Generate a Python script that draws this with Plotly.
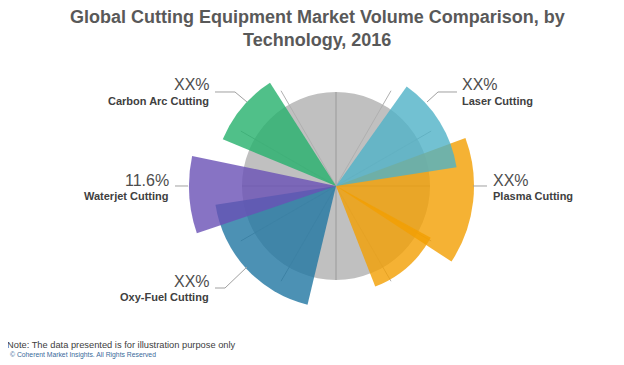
import plotly.graph_objects as go

# the page adds an 8px body margin, so the figure is drawn 8px in from the corner
OFF = 8
W, H = 624 - OFF, 365 - OFF

# ---- data ----
technologies = ["Carbon Arc Cutting", "Laser Cutting", "Plasma Cutting", "Waterjet Cutting", "Oxy-Fuel Cutting"]
share_labels = ["XX%", "XX%", "XX%", "11.6%", "XX%"]
tech_colors = ["#24b06b", "#4fb2c7", "#f39f01", "#6950b5", "#1f75a1"]

# wedges (angles in degrees, clockwise from 12 o'clock) in drawing order
wedge_tech = ["Oxy-Fuel Cutting", "Plasma Cutting", "Plasma Cutting", "Laser Cutting", "Waterjet Cutting", "Carbon Arc Cutting"]
wedge_start = [193.5, 69.7, 118.7, 35.4, 251.2, 292.4]
wedge_end = [261.1, 123.2, 158.7, 81.2, 281.8, 327.4]
wedge_value = [122, 138, 108, 122, 147, 122.5]

base_value = 94            # grey base disc
major_angles = [0, 90, 180, 270]
minor_angles = [30, 60, 120, 150, 210, 240, 300, 330]
minor_value = 110

title_lines = ["Global Cutting Equipment Market Volume Comparison, by", "Technology, 2016"]
note_text = "Note: The data presented is for illustration purpose only"
copyright_text = "\u00a9 Coherent Market Insights. All Rights Reserved"

# ---- layout helpers (screen pixel coordinates) ----
CX, CY = 336, 186   # pixel centre of the rose
RMAX = 150


def px(x):
    return (x - OFF) / W


def py(y):
    return 1 - (y - OFF) / H


def domain(rpx):
    return dict(x=[px(CX - rpx), px(CX + rpx)], y=[py(CY + rpx), py(CY - rpx)])


fig = go.Figure()

# dummy traces so the background subplots are drawn
fig.add_trace(go.Scatterpolar(r=[0], theta=[0], mode="markers", marker=dict(size=1, opacity=0),
                              hoverinfo="skip", showlegend=False, subplot="polar"))
fig.add_trace(go.Scatterpolar(r=[0], theta=[0], mode="markers", marker=dict(size=1, opacity=0),
                              hoverinfo="skip", showlegend=False, subplot="polar2"))

for tech, s, e, v in zip(wedge_tech, wedge_start, wedge_end, wedge_value):
    col = tech_colors[technologies.index(tech)]
    fig.add_trace(go.Barpolar(
        r=[v], theta=[(s + e) / 2], width=[e - s], base=0,
        marker=dict(color=col, line=dict(width=0)), opacity=0.8,
        name=tech, showlegend=False, subplot="polar3"))

common_ang = dict(rotation=90, direction="clockwise", showticklabels=False, ticks="",
                  showline=False)

fig.update_layout(
    width=W, height=H, autosize=False,
    margin=dict(l=0, r=0, t=0, b=0),
    paper_bgcolor="white", plot_bgcolor="white",
    showlegend=False,
    polar=dict(domain=domain(base_value), bgcolor="#c0c0c0",
               radialaxis=dict(visible=False, range=[0, base_value]),
               angularaxis=dict(**common_ang, tickmode="array", tickvals=major_angles,
                                showgrid=True, gridcolor="#9a9a9a", gridwidth=1)),
    polar2=dict(domain=domain(minor_value), bgcolor="rgba(0,0,0,0)",
                radialaxis=dict(visible=False, range=[0, minor_value]),
                angularaxis=dict(**common_ang, tickmode="array", tickvals=minor_angles,
                                 showgrid=True, gridcolor="#b0b0b0", gridwidth=0.8)),
    polar3=dict(domain=domain(RMAX), bgcolor="rgba(0,0,0,0)",
                radialaxis=dict(visible=False, range=[0, RMAX]),
                angularaxis=dict(**common_ang, showgrid=False)),
)

FONT = "Liberation Sans, Arial, sans-serif"
ann = []
# title
for txt, y in zip(title_lines, [17, 40]):
    ann.append(dict(text="<b>%s</b>" % txt, x=px(317), y=py(y), xref="paper", yref="paper",
                    xanchor="center", yanchor="middle", showarrow=False,
                    font=dict(family=FONT, size=18, color="#595959")))

# category labels: (pct x, pct y, name x, name y, anchor)
label_pos = {
    "Carbon Arc Cutting": (212, 84, 211, 101, "right"),
    "Laser Cutting": (460, 84, 460, 101, "left"),
    "Plasma Cutting": (491, 180, 491, 196, "left"),
    "Waterjet Cutting": (171, 180, 171, 196, "right"),
    "Oxy-Fuel Cutting": (212, 281, 211, 297, "right"),
}
for tech, lab in zip(technologies, share_labels):
    x1, y1, x2, y2, anc = label_pos[tech]
    ann.append(dict(text=lab, x=px(x1), y=py(y1), xref="paper", yref="paper",
                    xanchor=anc, yanchor="middle", showarrow=False,
                    font=dict(family=FONT, size=16, color="#4d4d4d")))
    ann.append(dict(text="<b>%s</b>" % tech, x=px(x2), y=py(y2), xref="paper", yref="paper",
                    xanchor=anc, yanchor="middle", showarrow=False,
                    font=dict(family=FONT, size=11, color="#404040")))

ann.append(dict(text=note_text, x=px(5), y=py(345), xref="paper", yref="paper",
                xanchor="left", yanchor="middle", showarrow=False,
                font=dict(family=FONT, size=9.3, color="#404040")))
ann.append(dict(text=copyright_text, x=px(8), y=py(355), xref="paper", yref="paper",
                xanchor="left", yanchor="middle", showarrow=False,
                font=dict(family=FONT, size=6.8, color="#3a6a9a")))

# leader lines
leaders = [
    [(215, 92), (235, 92), (247, 102)],
    [(457, 92), (438, 92), (427, 102)],
    [(473, 186), (487, 186)],
    [(175, 186), (188, 186)],
    [(215, 288), (225, 288), (247, 267)],
]
shapes = []
for pts in leaders:
    path = "M " + " L ".join("%f,%f" % (px(x), py(y)) for x, y in pts)
    shapes.append(dict(type="path", path=path, xref="paper", yref="paper",
                       line=dict(color="#a0a0a0", width=1)))

fig.update_layout(annotations=ann, shapes=shapes)

fig.write_html("out.html")
